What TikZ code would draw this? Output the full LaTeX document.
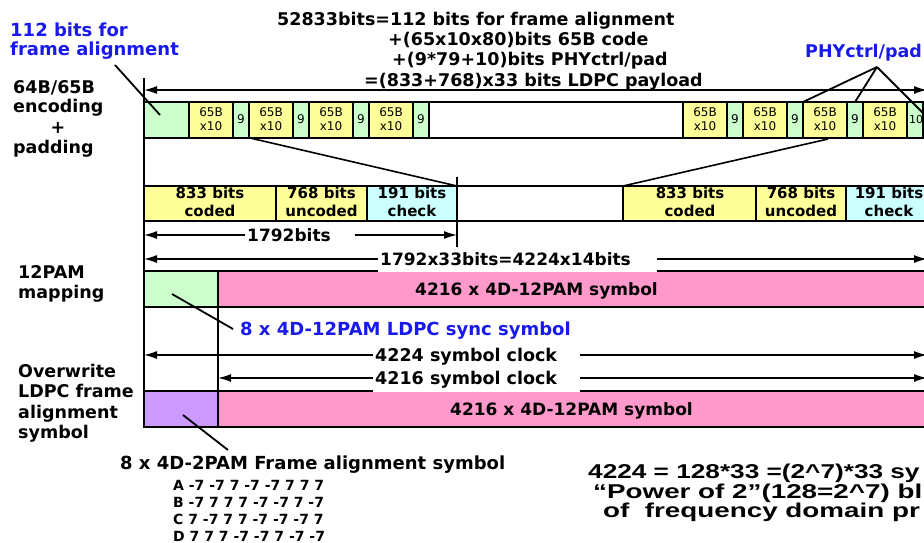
\documentclass[tikz,border=0pt]{standalone}
\usepackage{fontspec}
\setmainfont{DejaVu Sans}
\newfontfamily\widearial[FakeStretch=1.31]{Liberation Sans}
\newfontfamily\widearialb[FakeStretch=1.39]{Liberation Sans}
\usetikzlibrary{arrows.meta}
\definecolor{cgrn}{RGB}{204,255,204}
\definecolor{cyel}{RGB}{255,255,153}
\definecolor{ccyan}{RGB}{204,255,255}
\definecolor{cpink}{RGB}{255,153,204}
\definecolor{cpurp}{RGB}{204,153,255}
\definecolor{tblue}{RGB}{25,25,235}
\newcommand\fsz[1]{\fontsize{#1pt}{#1pt}\selectfont}
\begin{document}
\begin{tikzpicture}[x=1pt,y=-1pt,
  box/.style={draw=black,line width=1.6pt},
  edge/.style={line width=1.6pt},
  dimline/.style={line width=1.4pt,{Latex[length=13pt,width=8pt]}-{Latex[length=13pt,width=8pt]}},
  ptr/.style={line width=1.8pt},
  mask/.style={fill=white,draw=none},
  lbl/.style={inner sep=0pt,anchor=base west},
  ctr/.style={inner sep=0pt,anchor=base},
  sm/.style={inner sep=0pt,anchor=base,font=\fsz{12}},
  bx/.style={inner sep=0pt,anchor=base,font=\bfseries\fsz{15}},
]
\useasboundingbox (0,0) rectangle (924,543);
\clip (0,0) rectangle (924,543);

% ---------- row 1 : 64B/65B encoding ----------
\draw[box] (144,102) rectangle (940,138);
\filldraw[box,fill=cgrn] (144,102) rectangle (189,138);
\foreach \k in {0,1,2,3}{
  \filldraw[box,fill=cyel] ({189+60*\k},102) rectangle ({233+60*\k},138);
  \filldraw[box,fill=cgrn] ({233+60*\k},102) rectangle ({249+60*\k},138);
  \filldraw[box,fill=cyel] ({683+60*\k},102) rectangle ({727+60*\k},138);
  \filldraw[box,fill=cgrn] ({727+60*\k},102) rectangle ({743+60*\k},138);
  \node[sm] (lA\k) at ({211+60*\k},117) {65B};
  \node[sm] (lB\k) at ({211+60*\k},130) {x10};
  \node[sm] (lC\k) at ({241+60*\k},124) {9};
  \node[sm] (rA\k) at ({705+60*\k},117) {65B};
  \node[sm] (rB\k) at ({705+60*\k},130) {x10};
}
\foreach \k in {0,1,2}{\node[sm] (rC\k) at ({735+60*\k},124) {9};}
\node[sm,anchor=base west,font=\fsz{11}] (rC3) at (909,124) {10};

% ---------- row 2 : LDPC blocks ----------
\draw[line width=1.2pt] (144,186) rectangle (940,221);
\filldraw[box,fill=cyel] (144,186) rectangle (276,221);
\filldraw[box,fill=cyel] (276,186) rectangle (367,221);
\filldraw[box,fill=ccyan] (367,186) rectangle (457,221);
\filldraw[box,fill=cyel] (623,186) rectangle (756,221);
\filldraw[box,fill=cyel] (756,186) rectangle (846,221);
\filldraw[box,fill=ccyan] (846,186) rectangle (935,221);
\node[bx] (L1a) at (210,198) {833 bits};
\node[bx] (L1b) at (210,216) {coded};
\node[bx] (L2a) at (321.5,198) {768 bits};
\node[bx] (L2b) at (321.5,216) {uncoded};
\node[bx] (L3a) at (412,198) {191 bits};
\node[bx] (L3b) at (412,216) {check};
\node[bx] (R1a) at (690,198) {833 bits};
\node[bx] (R1b) at (690,216) {coded};
\node[bx] (R2a) at (801,198) {768 bits};
\node[bx] (R2b) at (801,216) {uncoded};
\node[bx] (R3a) at (889,198) {191 bits};
\node[bx] (R3b) at (889,216) {check};

% ---------- rows 3 and 4 ----------
\filldraw[box,fill=cgrn] (144,271) rectangle (218,307);
\filldraw[box,fill=cpink] (218,271) rectangle (940,307);
\filldraw[box,fill=cpurp] (144,391) rectangle (218,427);
\filldraw[box,fill=cpink] (218,391) rectangle (940,427);

% ---------- coordinates ----------
\coordinate (vLt) at (144,78);   \coordinate (vLb) at (144,427);
\coordinate (vMt) at (218,271);  \coordinate (vMb) at (218,427);
\coordinate (vRt) at (457,177);  \coordinate (vRb) at (457,247);
\coordinate (zA1) at (250,138);  \coordinate (zA2) at (457,186);
\coordinate (zB1) at (828,139);  \coordinate (zB2) at (623,186);
\coordinate (dTa) at (144,90);   \coordinate (dTb) at (927,90);
\coordinate (d1a) at (144,235);  \coordinate (d1b) at (457,235);
\coordinate (d2a) at (144,259);  \coordinate (d2b) at (927,259);
\coordinate (d3a) at (144,355);  \coordinate (d3b) at (927,355);
\coordinate (d4a) at (218,378);  \coordinate (d4b) at (927,378);
\coordinate (pFa) at (115,65);   \coordinate (pFb) at (160,115);
\coordinate (pPh) at (877,67);
\coordinate (pP1) at (803,102);  \coordinate (pP2) at (855,102);  \coordinate (pP3) at (924,114);
\coordinate (pSa) at (172,294);  \coordinate (pSb) at (233,329);
\coordinate (pAa) at (183,415);  \coordinate (pAb) at (228,450);

% ---------- lines ----------
\draw[edge] (vLt) -- (vLb);
\draw[edge] (vMt) -- (vMb);
\draw[edge] (vRt) -- (vRb);
\draw[edge] (zA1) -- (zA2);
\draw[edge] (zB1) -- (zB2);
\draw[dimline] (dTa) -- (dTb);
\draw[dimline] (d1a) -- (d1b);
\draw[dimline] (d2a) -- (d2b);
\draw[dimline] (d3a) -- (d3b);
\draw[dimline] (d4a) -- (d4b);
\draw[ptr] (pFa) -- (pFb);
\draw[ptr] (pPh) -- (pP1);
\draw[ptr] (pPh) -- (pP2);
\draw[ptr] (pPh) -- (pP3);
\draw[ptr] (pSa) -- (pSb);
\draw[ptr] (pAa) -- (pAb);

% ---------- white gaps behind dimension labels ----------
\fill[mask] (245,227) rectangle (355,244);
\fill[mask] (378,248) rectangle (657,272.2);
\fill[mask] (373,344) rectangle (580,366);
\fill[mask] (373,368) rectangle (580,392.2);

% ---------- top formula ----------
\node[lbl,font=\bfseries\fsz{17.5}] (f1) at (277,26) {52833bits=112 bits for frame alignment};
\node[lbl,font=\bfseries\fsz{17.5}] (f2) at (388,46) {+(65x10x80)bits 65B code};
\node[lbl,font=\bfseries\fsz{17.5}] (f3) at (392,66) {+(9*79+10)bits PHYctrl/pad};
\node[lbl,font=\bfseries\fsz{17.5}] (f4) at (364,86) {=(833+768)x33 bits LDPC payload};

% ---------- blue labels ----------
\node[lbl,font=\bfseries\fsz{18},text=tblue] (fa1) at (10,37) {112 bits for};
\node[lbl,font=\bfseries\fsz{18},text=tblue] (fa2) at (10,56) {frame alignment};
\node[lbl,font=\bfseries\fsz{17.5},text=tblue] (phy) at (805,58) {PHYctrl/pad};
\node[lbl,font=\bfseries\fsz{18},text=tblue] (sync) at (240,335) {8 x 4D-12PAM LDPC sync symbol};

% ---------- left labels ----------
\node[lbl,font=\bfseries\fsz{17.5}] (e1) at (13,93) {64B/65B};
\node[lbl,font=\bfseries\fsz{17.5}] (e2) at (13,113) {encoding};
\node[ctr,font=\bfseries\fsz{17.5}] (e3) at (58,133) {+};
\node[lbl,font=\bfseries\fsz{17.5}] (e4) at (13,153) {padding};
\node[lbl,font=\bfseries\fsz{17.5}] (m1) at (18,278) {12PAM};
\node[lbl,font=\bfseries\fsz{17.5}] (m2) at (18,298) {mapping};
\node[lbl,font=\bfseries\fsz{17.5}] (o1) at (18,377) {Overwrite};
\node[lbl,font=\bfseries\fsz{17.5}] (o2) at (18,397.5) {LDPC frame};
\node[lbl,font=\bfseries\fsz{17.5}] (o3) at (18,418) {alignment};
\node[lbl,font=\bfseries\fsz{17.5}] (o4) at (18,438) {symbol};

% ---------- dimension labels ----------
\node[lbl,font=\bfseries\fsz{17}] (t1792) at (247,241) {1792bits};
\node[lbl,font=\bfseries\fsz{17}] (t1792b) at (380,265) {1792x33bits=4224x14bits};
\node[lbl,font=\bfseries\fsz{17.5}] (tclk1) at (375,361) {4224 symbol clock};
\node[lbl,font=\bfseries\fsz{17.5}] (tclk2) at (375,384) {4216 symbol clock};

% ---------- row texts ----------
\node[lbl,font=\bfseries\fsz{17}] (pk1) at (415,295) {4216 x 4D-12PAM symbol};
\node[lbl,font=\bfseries\fsz{17}] (pk2) at (450,415) {4216 x 4D-12PAM symbol};

% ---------- frame alignment symbol ----------
\node[lbl,font=\bfseries\fsz{18}] (fas) at (120,469) {8 x 4D-2PAM Frame alignment symbol};
\node[lbl,font=\bfseries\fsz{14}] (cA) at (173,490) {A -7 -7 7 -7 -7 7 7 7};
\node[lbl,font=\bfseries\fsz{14}] (cB) at (173,507) {B -7 7 7 7 -7 -7 7 -7};
\node[lbl,font=\bfseries\fsz{14}] (cC) at (173,524) {C 7 -7 7 7 -7 -7 -7 7};
\node[lbl,font=\bfseries\fsz{14}] (cD) at (173,541) {D 7 7 7 -7 -7 7 -7 -7};

% ---------- bottom right note ----------
\node[lbl,font=\widearial\bfseries\fsz{20}] (n1) at (588,478) {4224 = 128*33 =(2\textasciicircum 7)*33 sy};
\node[lbl,font=\widearialb\bfseries\fsz{20}] (n2) at (593,498) {“Power of 2”(128=2\textasciicircum 7) bl};
\node[lbl,font=\widearialb\bfseries\fsz{20}] (n3) at (603,517) {of\ \ frequency domain pr};
\end{tikzpicture}
\end{document}
